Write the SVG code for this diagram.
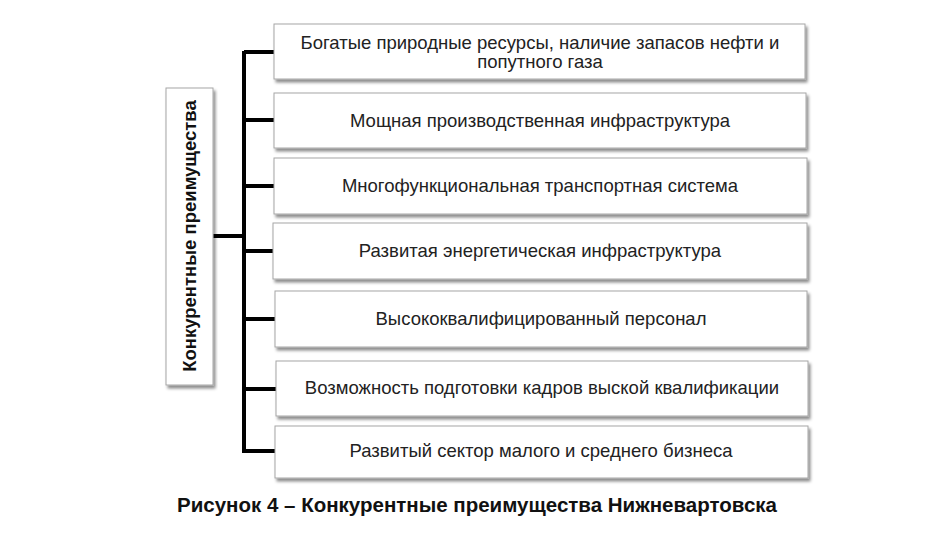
<svg xmlns="http://www.w3.org/2000/svg" width="945" height="542" viewBox="0 0 945 542">
<defs>
<filter id="sh" x="-5%" y="-10%" width="115%" height="130%">
<feDropShadow dx="2" dy="3" stdDeviation="1.5" flood-color="#000" flood-opacity="0.45"/>
</filter>
<style>
.box{fill:#fff;stroke:#a6a6a6;stroke-width:1;filter:url(#sh)}
.t{font-family:"Liberation Sans",Arial,sans-serif;font-size:18.5px;fill:#222;text-anchor:middle}
.b{font-family:"Liberation Sans",Arial,sans-serif;font-size:18.5px;font-weight:bold;fill:#111;text-anchor:middle}
.cap{font-family:"Liberation Sans",Arial,sans-serif;font-size:20.5px;font-weight:bold;fill:#111;text-anchor:middle}
.c{stroke:#000;stroke-width:4;fill:none}
</style>
</defs>
<rect width="945" height="542" fill="#fff"/>
<g id="connectors">
<path class="c" d="M213 236H244M244 51V453M244 52H275M244 120H275M244 186H275M244 251H275M244 319H276M244 389H277M244 451H276"/>
</g>
<g id="root">
<rect class="box" x="166" y="88" width="47" height="297"/>
<text class="b" transform="translate(196 236) rotate(-90)">Конкурентные преимущества</text>
</g>
<g id="n1">
<rect class="box" x="274" y="24" width="531" height="55"/>
<text class="t" x="540" y="49">Богатые природные ресурсы, наличие запасов нефти и</text>
<text class="t" x="540" y="68">попутного газа</text>
</g>
<g id="n2">
<rect class="box" x="274" y="93" width="532" height="55"/>
<text class="t" x="540" y="127">Мощная производственная инфраструктура</text>
</g>
<g id="n3">
<rect class="box" x="274" y="158" width="533" height="56"/>
<text class="t" x="540" y="192">Многофункциональная транспортная система</text>
</g>
<g id="n4">
<rect class="box" x="273" y="223" width="534" height="56"/>
<text class="t" x="540" y="257">Развитая энергетическая инфраструктура</text>
</g>
<g id="n5">
<rect class="box" x="275" y="291" width="532" height="56"/>
<text class="t" x="541" y="325">Высококвалифицированный персонал</text>
</g>
<g id="n6">
<rect class="box" x="276" y="361" width="532" height="55"/>
<text class="t" x="542" y="394">Возможность подготовки кадров выской квалификации</text>
</g>
<g id="n7">
<rect class="box" x="275" y="426" width="533" height="52"/>
<text class="t" x="541" y="457">Развитый сектор малого и среднего бизнеса</text>
</g>
<text class="cap" x="477" y="512">Рисунок 4 – Конкурентные преимущества Нижневартовска</text>
</svg>
